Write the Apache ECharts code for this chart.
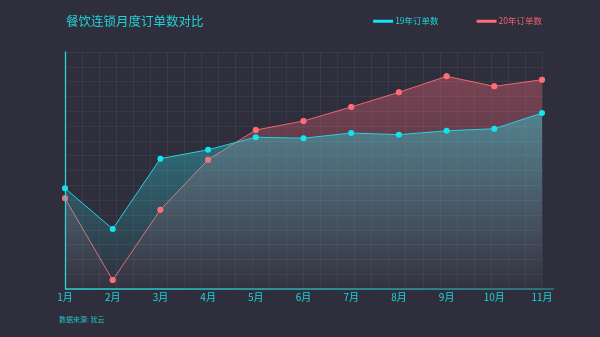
<!DOCTYPE html>
<html><head><meta charset="utf-8">
<script src="https://cdn.jsdelivr.net/npm/echarts@6/dist/echarts.min.js"></script>
<style>html,body{margin:0;padding:0;background:#2f2e3c;}#c{width:600px;height:337px;}</style>
</head><body><div id="c"></div>
<script>
const months = ['1月','2月','3月','4月','5月','6月','7月','8月','9月','10月','11月'];
const orders19 = [680, 405, 880, 940, 1025, 1018, 1053, 1042, 1068, 1082, 1188];
const orders20 = [612, 60, 535, 873, 1073, 1134, 1229, 1328, 1436, 1368, 1413];
const seriesNames = ['19年订单数', '20年订单数'];
const titleText = '餐饮连锁月度订单数对比';
const sourceText = '数据来源: 犹云';

const cyan = '#1fd6dc';
const red = '#f0636f';
const chart = echarts.init(document.getElementById('c'));
const grad = (c0, c1) => new echarts.graphic.LinearGradient(0, 0, 0, 1, [{offset: 0, color: c0}, {offset: 1, color: c1}]);
chart.setOption({
  backgroundColor: '#2f2e3c',
  animation: false,
  title: [{text: titleText, left: 61, top: 10, textStyle: {color: '#22d2d6', fontSize: 12.5, fontWeight: 'normal', fontFamily: 'Noto Sans CJK SC'}},
          {text: sourceText, left: 54, top: 311, textStyle: {color: '#22c4c8', fontSize: 7, fontWeight: 'normal', fontFamily: 'Noto Sans CJK SC'}}],
  legend: {right: 53, top: 12, itemGap: 38, itemWidth: 20, itemHeight: 3, icon: 'rect',
    data: [{name: seriesNames[0], textStyle: {color: cyan}}, {name: seriesNames[1], textStyle: {color: red}}],
    textStyle: {fontSize: 8.5, fontFamily: 'Noto Sans CJK SC', padding: [0, 0, 0, -3]}},
  grid: {left: 65, right: 58, top: 52, bottom: 48},
  xAxis: [{type: 'category', data: months, boundaryGap: false,
      axisLine: {show: false}, axisTick: {show: false},
      axisLabel: {color: cyan, fontSize: 10, margin: 3, fontFamily: 'Noto Sans CJK SC'}, splitLine: {show: false}},
    {type: 'value', min: 0, max: 28, interval: 1, show: true, axisLine: {show: false}, axisTick: {show: false}, axisLabel: {show: false},
      splitLine: {show: true, lineStyle: {color: 'rgba(255,255,255,0.05)', width: 1}}}],
  yAxis: {type: 'value', min: 0, max: 1600, interval: 100, z: 10,
    axisLine: {show: true, onZero: false, lineStyle: {color: '#2fd2d8', width: 1.3}}, axisTick: {show: false}, axisLabel: {show: false},
    splitLine: {show: true, lineStyle: {color: 'rgba(255,255,255,0.05)', width: 1}}},
  graphic: [{type: 'line', shape: {x1: 65, y1: 289, x2: 554, y2: 289}, silent: true, z: 10,
    style: {lineWidth: 1.5, stroke: new echarts.graphic.LinearGradient(0, 0, 1, 0, [{offset: 0, color: '#27d0d4'}, {offset: 1, color: '#2a8088'}])}}],
  series: [
    {name: seriesNames[1], type: 'line', data: orders20, symbol: 'circle', symbolSize: 6, z: 3,
      itemStyle: {color: '#ff6b77'}, lineStyle: {color: red, width: 1},
      areaStyle: {color: grad('rgba(255,105,125,0.5)', 'rgba(255,105,125,0.03)')}},
    {name: seriesNames[0], type: 'line', data: orders19, symbol: 'circle', symbolSize: 6, z: 4,
      itemStyle: {color: '#10e6f0'}, lineStyle: {color: cyan, width: 1},
      areaStyle: {color: grad('rgba(45,220,228,0.6)', 'rgba(45,220,228,0.02)')}},
    {name: seriesNames[1] + '点', type: 'scatter', data: orders20, symbol: 'circle', symbolSize: 6, z: 5,
      itemStyle: {color: '#ff6b77'}, silent: true}
  ]
});
</script></body></html>
